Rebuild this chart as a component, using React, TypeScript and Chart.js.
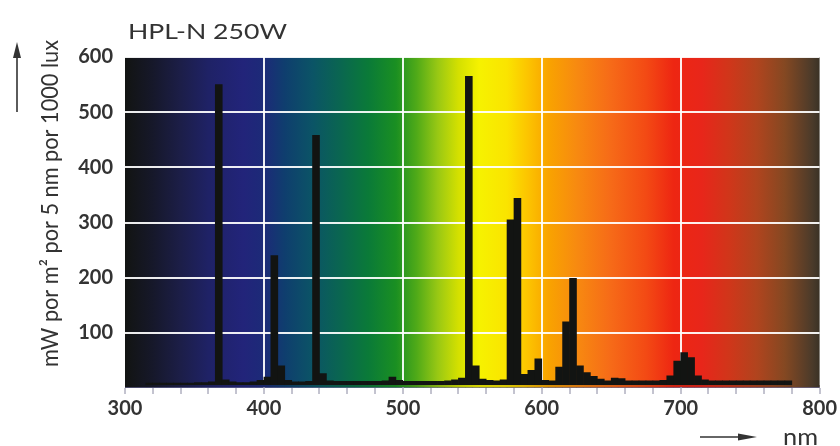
import React, { useEffect, useRef } from 'react';
import { Chart, registerables } from 'chart.js';

Chart.register(...registerables);

// ---- data ----
const binStarts = [
  315, 320, 325, 330, 335, 340, 345, 350, 355, 360, 365, 370, 375, 380, 385, 390, 395,
  400, 405, 410, 415, 420, 425, 430, 435, 440, 445, 450, 455, 460, 465, 470, 475, 480,
  485, 490, 495, 500, 505, 510, 515, 520, 525, 530, 535, 540, 545, 550, 555, 560, 565,
  570, 575, 580, 585, 590, 595, 600, 605, 610, 615, 620, 625, 630, 635, 640, 645, 650,
  655, 660, 665, 670, 675, 680, 685, 690, 695, 700, 705, 710, 715, 720, 725, 730, 735,
  740, 745, 750, 755, 760, 765, 770, 775,
];
const power = [
  9, 9, 9, 9, 9, 9, 9, 10, 10, 11, 550, 15, 11, 10, 10, 11, 14,
  20, 240, 40, 14, 11, 11, 12, 458, 26, 13, 12, 12, 12, 12, 12, 12, 12,
  13, 20, 14, 12, 12, 12, 12, 12, 12, 13, 15, 18, 565, 40, 16, 14, 13,
  15, 305, 344, 25, 32, 53, 14, 13, 38, 120, 199, 40, 28, 21, 16, 13, 18,
  17, 13, 13, 13, 13, 13, 14, 22, 49, 64, 55, 22, 15, 13, 13, 13, 13,
  13, 13, 13, 13, 13, 13, 13, 13,
];
const xTickStep = 20;
const xMajorStep = 100;
const xMin = 300;
const xMax = 800;
const yTickValues = [100, 200, 300, 400, 500, 600];
const yMax = 600;
const titleText = 'HPL-N 250W';
const yTitleText = 'mW por m² por 5 nm por 1000 lux';
const xTitleText = 'nm';

// spectrum background colours
const gradNm = [300, 320, 340, 360, 385, 400, 415, 435, 455, 475, 495, 510, 525, 540, 555, 575, 590, 605, 625, 650, 675, 695, 715, 735, 755, 775, 795, 800];
const gradColors = [
  '#121412', '#16182a', '#1c1e48', '#1f2266', '#22247a', '#1c2a78', '#0f3e6e', '#0b5466',
  '#0a6650', '#0a7a38', '#1a8f22', '#50aa18', '#98c814', '#d4e000', '#f6f200', '#fae400',
  '#fcc400', '#f9a300', '#f78a10', '#f66a18', '#f34a14', '#ee2612', '#e8261a', '#d0361a',
  '#b0441e', '#844822', '#4a3a2a', '#3a3226',
];

const FONT = 'Lato, "Open Sans", sans-serif';
const TEXT = '#333333';

function drawFitted(ctx: CanvasRenderingContext2D, text: string, x: number, y: number, width: number) {
  const w = ctx.measureText(text).width;
  const sx = width / w;
  ctx.save();
  ctx.translate(x, y);
  ctx.scale(sx, 1);
  ctx.fillText(text, 0, 0);
  ctx.restore();
}

function makeGradient(chart: any) {
  const { ctx, chartArea } = chart;
  const xs = chart.scales.x;
  const g = ctx.createLinearGradient(chartArea.left, 0, chartArea.right, 0);
  const span = chartArea.right - chartArea.left;
  gradNm.forEach((nm, i) => {
    const p = (xs.getPixelForValue(nm) - chartArea.left) / span;
    g.addColorStop(Math.min(1, Math.max(0, p)), gradColors[i]);
  });
  return g;
}

const spectrumPlugin = {
  id: 'spectrum',
  beforeDraw(chart: any) {
    const { ctx, chartArea } = chart;
    ctx.save();
    ctx.fillStyle = makeGradient(chart);
    ctx.fillRect(chartArea.left, chartArea.top, chartArea.right - chartArea.left, chartArea.bottom - chartArea.top);
    ctx.restore();
  },
  afterDatasetsDraw(chart: any) {
    const { ctx, chartArea } = chart;
    const span = chartArea.right - chartArea.left;
    ctx.save();
    ctx.globalAlpha = 0.85;
    ctx.fillStyle = makeGradient(chart);
    ctx.fillRect(chartArea.left, chartArea.bottom - 3, span, 2);
    ctx.globalAlpha = 0.6;
    ctx.fillStyle = '#7070a0';
    ctx.fillRect(chartArea.left, chartArea.bottom - 1, span, 1);
    ctx.restore();
  },
  afterDraw(chart: any) {
    const { ctx } = chart;
    ctx.save();
    ctx.fillStyle = TEXT;
    ctx.strokeStyle = TEXT;
    ctx.textBaseline = 'alphabetic';

    // title
    ctx.font = `400 21px ${FONT}`;
    ctx.textAlign = 'left';
    drawFitted(ctx, titleText, 128, 39, 159);

    // y title (rotated)
    ctx.save();
    ctx.translate(58, 203.5);
    ctx.rotate(-Math.PI / 2);
    ctx.font = `400 23px ${FONT}`;
    ctx.textAlign = 'center';
    drawFitted(ctx, yTitleText, 0, 0, 327);
    ctx.restore();

    // y arrow
    ctx.lineWidth = 1.6;
    ctx.beginPath();
    ctx.moveTo(17, 112);
    ctx.lineTo(17, 55);
    ctx.stroke();
    ctx.beginPath();
    ctx.moveTo(17, 42);
    ctx.lineTo(21, 58);
    ctx.lineTo(13, 58);
    ctx.closePath();
    ctx.fill();

    // x arrow
    ctx.beginPath();
    ctx.moveTo(700, 437);
    ctx.lineTo(742, 437);
    ctx.stroke();
    ctx.beginPath();
    ctx.moveTo(757, 437);
    ctx.lineTo(738, 433.5);
    ctx.lineTo(738, 440.5);
    ctx.closePath();
    ctx.fill();

    // x title
    ctx.font = `400 23px ${FONT}`;
    ctx.textAlign = 'left';
    drawFitted(ctx, xTitleText, 783, 445, 35);
    ctx.restore();
  },
};

export default function App() {
  const ref = useRef<HTMLCanvasElement | null>(null);

  useEffect(() => {
    if (!ref.current) return;
    const points = binStarts.map((b, i) => ({ x: b + 2.5, y: power[i] }));
    const chart = new Chart(ref.current, {
      type: 'bar',
      data: {
        datasets: [
          {
            data: points as any,
            backgroundColor: '#121412',
            borderWidth: 0,
            barPercentage: 1,
            categoryPercentage: 1,
            grouped: false,
          } as any,
        ],
      },
      plugins: [spectrumPlugin],
      options: {
        responsive: false,
        animation: false,
        layout: { padding: { left: 0, right: 19, top: 57, bottom: 0 } },
        plugins: {
          legend: { display: false },
          tooltip: { enabled: false },
          title: { display: false },
        },
        scales: {
          x: {
            type: 'linear',
            min: xMin,
            max: xMax,
            offset: false,
            afterFit: (s: any) => {
              s.height = 58;
            },
            ticks: {
              stepSize: xTickStep,
              autoSkip: false,
              maxRotation: 0,
              minRotation: 0,
              padding: 3,
              color: TEXT,
              font: { family: FONT, weight: 'bold', size: 20 },
              callback: (v: any) => (Number(v) % xMajorStep === 0 ? String(v) : ''),
            },
            grid: {
              offset: false,
              lineWidth: 2,
              tickLength: 6,
              tickWidth: 1,
              tickColor: '#8888a0',
              color: (c: any) => {
                const v = c.tick ? c.tick.value : 0;
                return v % xMajorStep === 0 && v > xMin && v < xMax ? 'rgba(255,255,255,0.92)' : 'rgba(0,0,0,0)';
              },
            },
            border: { display: false },
          } as any,
          y: {
            type: 'linear',
            min: 0,
            max: yMax,
            afterFit: (s: any) => {
              s.width = 125;
            },
            afterBuildTicks: (s: any) => {
              s.ticks = [0, ...yTickValues].map((v) => ({ value: v }));
            },
            ticks: {
              padding: 12,
              color: TEXT,
              font: { family: FONT, weight: 'bold', size: 20 },
              callback: (v: any) => (Number(v) === 0 ? '' : String(v)),
            },
            grid: {
              drawTicks: false,
              lineWidth: 2,
              color: (c: any) => (c.tick && c.tick.value > 0 ? 'rgba(255,255,255,0.92)' : 'rgba(0,0,0,0)'),
            },
            border: { display: false },
          } as any,
        },
      },
    });
    return () => chart.destroy();
  }, []);

  return (
    <canvas
      ref={ref}
      width={840}
      height={446}
      style={{ position: 'absolute', left: 0, top: 0, display: 'block', background: '#ffffff' }}
    />
  );
}
